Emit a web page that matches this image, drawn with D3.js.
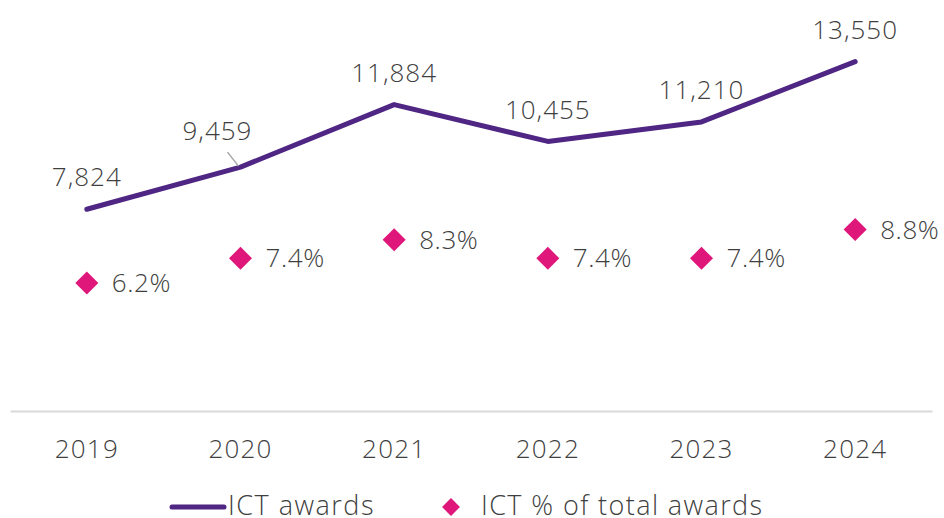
<!DOCTYPE html>
<html>
    <head>
        <title>ICT awards</title>
        <script src="https://d3js.org/d3.v7.min.js"></script>
    </head>
    <style>
        body { margin: 0; background: #fff; }
        text { font-family: "Open Sans", Lato, sans-serif; font-weight: 300; fill: #3f3f3f; }
    </style>
    <body>
        <div class="graph"></div>
        <script>
            const years = ['2019', '2020', '2021', '2022', '2023', '2024'];
            const ictAwards = [7824, 9459, 11884, 10455, 11210, 13550];
            const ictShare = [0.062, 0.074, 0.083, 0.074, 0.074, 0.088];

            const width = 944;
            const height = 518;
            const purple = '#4f2683';
            const pink = '#e0177a';

            // x: one band per year across the plot
            const x = d3.scaleBand()
                .domain(years)
                .range([10, 932]);
            const cx = d => x(d) + x.bandwidth() / 2;

            // left axis for awards, right (hidden) axis for share
            const y = d3.scaleLinear()
                .domain([0, 14000])
                .range([411, 50]);
            const y2 = d3.scaleLinear()
                .domain([0, 0.175])
                .range([411, 50]);

            const svg = d3.select('.graph')
                .append('svg')
                .attr('width', width)
                .attr('height', height);

            // x axis: baseline + year labels
            const xAxis = d3.axisBottom(x).tickSize(0);
            const gx = svg.append('g')
                .attr('transform', 'translate(0, 411)')
                .call(xAxis);
            gx.select('.domain').attr('stroke', '#d9d9d9').attr('stroke-width', 2);
            gx.selectAll('text')
                .attr('font-size', 26)
                .attr('letter-spacing', 1.2)
                .attr('font-family', '"Open Sans", Lato, sans-serif')
                .attr('fill', '#3f3f3f')
                .attr('dy', '0.35em')
                .attr('y', 38);

            // awards line
            const pts = years.map((d, i) => [cx(d), y(ictAwards[i])]);
            svg.append('path')
                .datum(pts)
                .attr('fill', 'none')
                .attr('stroke', purple)
                .attr('stroke-width', 5)
                .attr('stroke-linecap', 'round')
                .attr('stroke-linejoin', 'round')
                .attr('d', d3.line());

            const fmt = d3.format(',');
            // label offsets (the 2020 label is pulled out with a leader line)
            const labelShift = { '2020': [-23, -4] };
            years.forEach((d, i) => {
                const s = labelShift[d] || [0, 0];
                const px = cx(d), py = y(ictAwards[i]);
                if (labelShift[d]) {
                    svg.append('line')
                        .attr('x1', px - 2).attr('y1', py - 1)
                        .attr('x2', px - 13).attr('y2', py - 15)
                        .attr('stroke', '#a6a6a6')
                        .attr('stroke-width', 1.5);
                }
                svg.append('text')
                    .attr('x', px + s[0])
                    .attr('y', py - 32 + s[1])
                    .attr('dy', '0.35em')
                    .attr('text-anchor', 'middle')
                    .attr('font-size', 26)
                    .attr('letter-spacing', 1)
                    .text(fmt(ictAwards[i]));
            });

            // share diamonds
            const diamond = d3.symbol().type(d3.symbolSquare).size(265);
            svg.selectAll('.dia')
                .data(years)
                .enter()
                .append('path')
                .attr('class', 'dia')
                .attr('d', diamond)
                .attr('fill', pink)
                .attr('transform', (d, i) => `translate(${cx(d)}, ${y2(ictShare[i])}) rotate(45)`);

            svg.selectAll('.pct')
                .data(years)
                .enter()
                .append('text')
                .attr('class', 'pct')
                .attr('x', d => cx(d) + 25)
                .attr('y', (d, i) => y2(ictShare[i]))
                .attr('dy', '0.35em')
                .attr('font-size', 26)
                .attr('letter-spacing', 0.6)
                .text((d, i) => d3.format('.1%')(ictShare[i]));

            // legend
            const lg = svg.append('g').attr('transform', 'translate(0, 507)');
            lg.append('line')
                .attr('x1', 172).attr('x2', 224)
                .attr('stroke', purple)
                .attr('stroke-width', 5)
                .attr('stroke-linecap', 'round');
            lg.append('text')
                .attr('x', 228).attr('y', 8)
                .attr('font-size', 27)
                .attr('letter-spacing', 1.5)
                .text('ICT awards');
            lg.append('path')
                .attr('d', d3.symbol().type(d3.symbolSquare).size(160))
                .attr('fill', pink)
                .attr('transform', 'translate(451, 0) rotate(45)');
            lg.append('text')
                .attr('x', 481).attr('y', 8)
                .attr('font-size', 27)
                .attr('letter-spacing', 1.4)
                .text('ICT % of total awards');
        </script>
    </body>
</html>
